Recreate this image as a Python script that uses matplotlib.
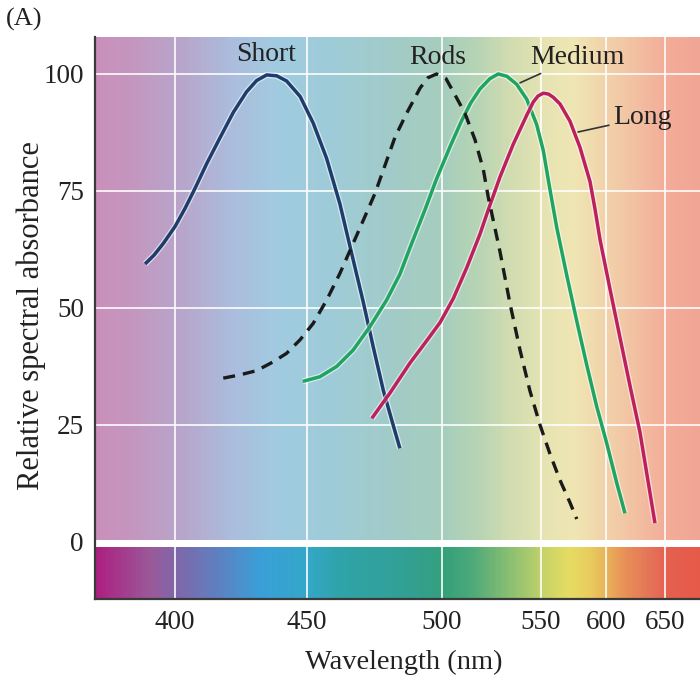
import numpy as np
import matplotlib
matplotlib.use("Agg")
import matplotlib.pyplot as plt
from matplotlib.colors import LinearSegmentedColormap
import matplotlib.patheffects as pe

# ---------------- data ----------------
short_wl = [388.9, 392.3, 395.8, 400.2, 404.0, 407.7, 412.2, 417.2, 422.2, 427.2, 431.0, 434.8,
            438.6, 442.3, 447.4, 452.3, 457.3, 462.2, 465.9, 470.9, 474.6, 478.3, 482.0, 484.4]
short_abs = [59.4, 61.3, 63.8, 67.4, 71.3, 75.5, 80.9, 86.4, 91.8, 96.2, 98.6, 99.8,
             99.6, 98.5, 95.2, 89.5, 81.9, 72.2, 63.2, 51.1, 41.5, 32.3, 24.8, 20.0]

rods_wl = [418.4, 424.7, 431.0, 437.3, 442.3, 447.4, 452.3, 457.3, 462.2, 467.1, 470.9,
           475.2, 478.9, 482.6, 486.9, 491.9, 494.8, 498.0, 502.0, 505.7, 511.6, 516.7,
           520.9, 523.4, 529.3, 534.3, 539.4, 544.4, 549.5, 556.9, 564.6, 572.3, 577.5]
rods_abs = [35.0, 35.7, 36.6, 38.5, 40.3, 43.2, 46.7, 51.7, 57.4, 63.8, 68.8,
            74.5, 80.5, 86.5, 91.6, 97.0, 99.2, 100.0, 99.0, 96.2, 91.6, 85.9,
            79.5, 73.6, 62.0, 51.0, 41.0, 32.3, 25.0, 18.8, 13.2, 8.4, 4.9]

medium_wl = [448.4, 454.8, 461.0, 467.1, 473.3, 479.5, 484.4, 488.1, 493.7, 498.0, 504.0,
             509.9, 514.5, 519.2, 524.2, 528.4, 532.8, 537.7, 542.8, 547.8, 551.8, 556.2, 562.1,
             569.8, 577.5, 585.2, 592.8, 600.6, 609.1, 616.1]
medium_abs = [34.3, 35.3, 37.5, 41.0, 46.0, 51.7, 57.2, 62.8, 71.0, 77.6, 84.4,
              90.0, 93.8, 96.8, 99.0, 100.0, 99.5, 97.8, 94.6, 89.2, 83.6, 76.4, 67.2,
              57.0, 47.2, 37.8, 29.0, 21.1, 12.6, 6.1]

long_wl = [474.0, 480.7, 488.1, 493.7, 499.3, 505.7, 512.5, 519.2, 523.4, 529.3, 536.0, 542.8,
           546.1, 548.5, 551.8, 555.8, 559.5, 564.6, 572.3, 580.0, 587.7, 591.5, 595.4, 603.4,
           611.9, 620.3, 628.8, 634.5, 641.5]
long_abs = [26.4, 31.8, 38.2, 42.5, 46.9, 52.0, 58.6, 65.8, 71.0, 78.0, 85.0, 91.2,
            94.0, 95.3, 95.9, 95.7, 95.0, 93.6, 89.9, 84.3, 77.0, 71.2, 64.6, 54.0,
            43.6, 33.4, 23.4, 14.7, 4.0]

x_ticks = [400, 450, 500, 550, 600, 650]
y_ticks = [0, 25, 50, 75, 100]

# ---------------- non-linear wavelength axis (figure's drawn scale) ----------------
scale_wl = np.array([300, 370, 400, 450, 500, 550, 600, 650, 680, 750], float)
scale_pos = np.array([-90.5, 95, 174.5, 307, 442, 541, 606, 665, 700, 781.7], float)

def fwd(w):
    return np.interp(w, scale_wl, scale_pos)

def inv(p):
    return np.interp(p, scale_pos, scale_wl)

# ---------------- background colours ----------------
pale_stops = [(370, '#c98fbb'), (383, '#c496bf'), (400, '#b9a3c9'), (421, '#abbcdc'),
              (440, '#a0cbe0'), (458, '#9ecbd8'), (484, '#a2cbc6'), (500, '#a5cdbd'),
              (519, '#b7d4b4'), (534, '#d0dcb0'), (553, '#e6e3b2'), (576, '#efe5b3'),
              (600, '#f1d2aa'), (625, '#f2c0a2'), (650, '#f2ad98'), (680, '#f1a595')]
sat_stops = [(370, '#ac1f80'), (390.8, '#9a5a9a'), (400, '#7f66a8'), (415.3, '#5f7fc0'),
             (432.3, '#3a9fd8'), (450, '#33a7c8'), (462.2, '#2fa3a8'), (484.4, '#31a097'),
             (501.5, '#34a07a'), (514.1, '#4aa87a'), (534.3, '#8abf72'), (553.1, '#c8d468'),
             (572.3, '#e6dc62'), (587.7, '#e8cc5e'), (600, '#e8b458'), (616.1, '#e89058'),
             (637.3, '#e47458'), (652.5, '#e56050'), (680, '#e65a48')]

def make_cmap(stops, name):
    lo, hi = stops[0][0], stops[-1][0]
    return LinearSegmentedColormap.from_list(
        name, [((w - lo) / (hi - lo), c) for w, c in stops])

XMIN, XMAX = 370, 680
YMIN, YMAX = -12.2, 107.9

fig = plt.figure(figsize=(7.0, 6.81), dpi=100)
ax = fig.add_axes([95 / 700, (681 - 599) / 681, 605 / 700, (599 - 37) / 681])
ax.set_xscale('function', functions=(fwd, inv))
ax.set_xlim(XMIN, XMAX)
ax.set_ylim(YMIN, YMAX)

xe = np.linspace(XMIN, XMAX, 600)
xc = 0.5 * (xe[:-1] + xe[1:])
cm_pale = make_cmap(pale_stops, 'pale')
cm_sat = make_cmap(sat_stops, 'sat')
ax.pcolormesh(xe, [0.4, YMAX], ((xc - XMIN) / (XMAX - XMIN))[None, :],
              cmap=cm_pale, vmin=0, vmax=1, shading='flat', zorder=0.1, rasterized=True)
ax.pcolormesh(xe, [YMIN, -1.1], ((xc - XMIN) / (XMAX - XMIN))[None, :],
              cmap=cm_sat, vmin=0, vmax=1, shading='flat', zorder=0.1, rasterized=True)

ax.set_xticks(x_ticks)
ax.set_xticklabels([str(t) for t in x_ticks])
ax.set_yticks(y_ticks)
ax.minorticks_off()
ax.set_axisbelow(True)
ax.grid(True, color='white', lw=1.3, alpha=0.9)

for s in ['top', 'right']:
    ax.spines[s].set_visible(False)
for s in ['left', 'bottom']:
    ax.spines[s].set_color('#3a3a3a')
    ax.spines[s].set_linewidth(1.6)

serif = ['Liberation Serif', 'DejaVu Serif']
ax.tick_params(length=0, labelsize=19.5, pad=8, labelcolor='#222222')
for lab in ax.get_xticklabels() + ax.get_yticklabels():
    lab.set_family(serif)

ax.set_xlabel('Wavelength (nm)', family=serif, fontsize=20.5, color='#222222')
ax.xaxis.set_label_coords(0.51, -0.09)
ax.set_ylabel('Relative spectral absorbance', family=serif, fontsize=22, color='#222222')
ax.yaxis.set_label_coords(-0.081, 0.505)

halo = [pe.Stroke(linewidth=4.4, foreground='white', alpha=0.55), pe.Normal()]
ax.plot(short_wl, short_abs, color='#1d3d6c', lw=2.5, path_effects=halo, zorder=3,
        solid_capstyle='butt', solid_joinstyle='round')
ax.plot(medium_wl, medium_abs, color='#1fa461', lw=2.5, path_effects=halo, zorder=3,
        solid_capstyle='butt', solid_joinstyle='round')
ax.plot(long_wl, long_abs, color='#bd215d', lw=2.5, path_effects=halo, zorder=3,
        solid_capstyle='butt', solid_joinstyle='round')
ax.plot(rods_wl, rods_abs, color='#1a1a1a', lw=2.4, dashes=(3.6, 2.4), zorder=3.5)

txt = dict(family=serif, fontsize=20, color='#222222', zorder=5)
ax.text(434.6, 104.1, 'Short', ha='center', va='center', **txt)
ax.text(498.3, 103.6, 'Rods', ha='center', va='center', **txt)
ax.annotate('Medium', xy=(539.4, 98.1), xytext=(577.7, 103.6), ha='center', va='center',
            arrowprops=dict(arrowstyle='-', color='#333333', lw=1.2,
                            shrinkA=2, shrinkB=0), **txt)
ax.annotate('Long', xy=(578.5, 87.6), xytext=(606.0, 90.6), ha='left', va='center',
            arrowprops=dict(arrowstyle='-', color='#333333', lw=1.2,
                            shrinkA=1, shrinkB=0), **txt)

fig.text(24 / 700, 1 - 19 / 681, '(A)', family=serif, fontsize=19, color='#222222',
         ha='center', va='center')

fig.savefig('out.png', dpi=100)
